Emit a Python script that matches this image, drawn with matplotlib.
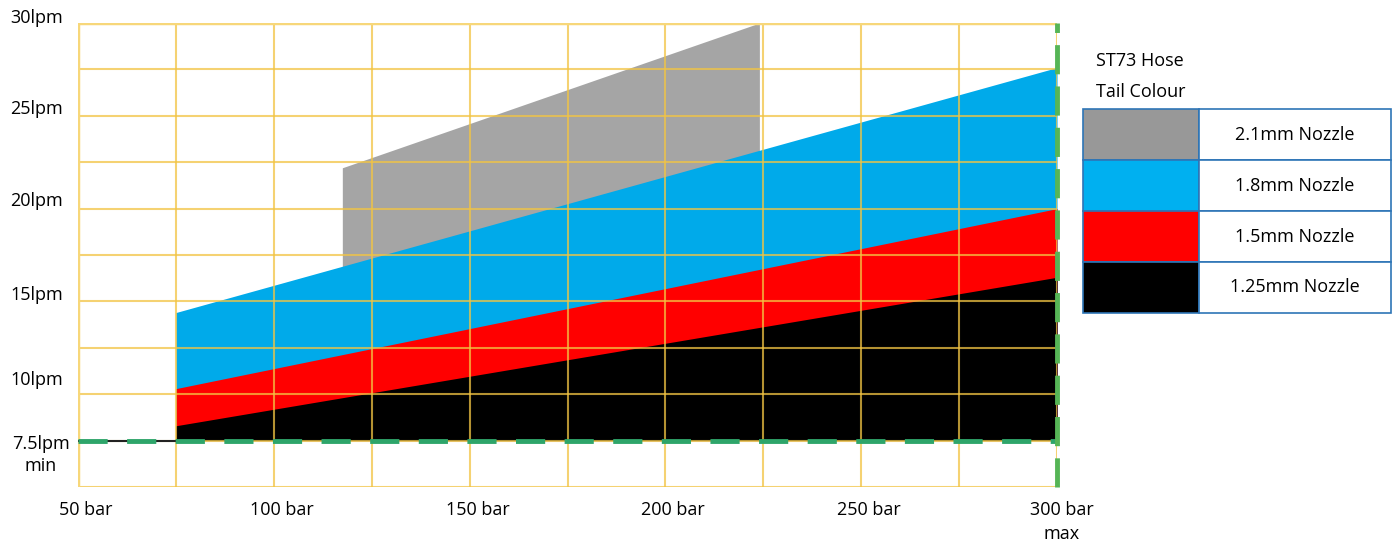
import matplotlib
matplotlib.use("Agg")
import matplotlib.pyplot as plt
from matplotlib.patches import Rectangle

plt.rcParams['font.family'] = ['Open Sans', 'DejaVu Sans']

# ---- data ----
nozzles = ["2.1mm Nozzle", "1.8mm Nozzle", "1.5mm Nozzle", "1.25mm Nozzle"]
colors_chart = ["#a5a5a5", "#00aaea", "#ff0000", "#000000"]
colors_legend = ["#989898", "#00b0f0", "#ff0000", "#000000"]

gray_bar = [117.5, 224]
gray_lpm = [22.2, 30.0]
blue_bar = [75, 300]
blue_lpm = [14.4, 27.6]
red_bar = [75, 300]
red_lpm = [10.3, 20.0]
black_bar = [75, 300]
black_lpm = [8.3, 16.3]

min_lpm = 7.5
max_bar = 300

x_ticks = [50, 100, 150, 200, 250, 300]
x_labels = ["50 bar", "100 bar", "150 bar", "200 bar", "250 bar", "300 bar\nmax"]
y_ticks = [30, 25, 20, 15, 10, 7.5]
y_labels = ["30lpm", "25lpm", "20lpm", "15lpm", "10lpm", "7.5lpm\nmin"]

# ---- figure ----
fig = plt.figure(figsize=(13.97, 5.44), dpi=100)
ax = fig.add_axes([78/1397, 1-487/544, (1057-78)/1397, (487-23)/544])
ax.set_xlim(50, 300)
ax.set_ylim(5, 30)

series = [(gray_bar, gray_lpm), (blue_bar, blue_lpm), (red_bar, red_lpm), (black_bar, black_lpm)]
for (xb, yl), c in zip(series, colors_chart):
    ax.fill_between(xb, [min_lpm]*len(xb), yl, color=c, lw=0, zorder=1)

# grid on top
grid_c = "#f2c443"
for xv in range(50, 301, 25):
    ax.axvline(xv, color=grid_c, lw=1.5, alpha=0.75, zorder=3)
yv = 5.0
while yv <= 30.001:
    ax.axhline(yv, color=grid_c, lw=1.5, alpha=0.75, zorder=3)
    yv += 2.5
ax.axhline(30, color="#f7d77a", lw=2.5, zorder=3)
ax.axvline(50, color="#f7d77a", lw=2.5, zorder=3)

# min/max lines
ax.plot([50, 75], [min_lpm, min_lpm], color="#222222", lw=1.5, zorder=4)
ax.plot([50, 300], [min_lpm, min_lpm], color="#2ea56a", lw=3.5,
        linestyle=(0, (6, 4)), zorder=5, solid_capstyle='butt')
ax.plot([max_bar, max_bar], [5, 30], color="#56b556", lw=3.5,
        linestyle=(0, (6, 2.5)), zorder=5, clip_on=False)

for s in ax.spines.values():
    s.set_visible(False)
ax.set_xticks([])
ax.set_yticks([])

# tick labels as text
for xv, lab in zip(x_ticks, x_labels):
    dx = 2.0 if xv < 300 else 1.2
    ax.text(xv + dx, 5 - 0.75, lab, ha="center", va="top", fontsize=13,
            linespacing=1.4, clip_on=False)
offs = {30: 0.25, 25: 0.35, 20: 0.4, 15: 0.35, 10: 0.75}
for yv_, lab in zip(y_ticks, y_labels):
    if yv_ == 7.5:
        ax.text(40.5, 7.5 + 0.3, lab, ha="center", va="top", fontsize=13,
                linespacing=1.25, clip_on=False)
    else:
        ax.text(39.5, yv_ + offs[yv_], lab, ha="center", va="center", fontsize=13,
                clip_on=False)

# legend table
fig.text(1096/1397, 1-61/544, "ST73 Hose", ha="left", va="center", fontsize=13)
fig.text(1096/1397, 1-92/544, "Tail Colour", ha="left", va="center", fontsize=13)
W, H = 1397, 544
tl, tm, tr = 1083, 1199, 1391
rows = [109, 160, 211, 262, 313]
border = "#2e75b6"
for i, (name, c) in enumerate(zip(nozzles, colors_legend)):
    top, bot = rows[i], rows[i+1]
    fig.add_artist(Rectangle((tl/W, 1-bot/H), (tm-tl)/W, (bot-top)/H,
                             transform=fig.transFigure, facecolor=c,
                             edgecolor=border, lw=1.2))
    fig.add_artist(Rectangle((tm/W, 1-bot/H), (tr-tm)/W, (bot-top)/H,
                             transform=fig.transFigure, facecolor="white",
                             edgecolor=border, lw=1.2))
    fig.text((tm+tr)/2/W, 1-(top+bot)/2/H, name, ha="center", va="center", fontsize=13)

fig.savefig("out.png", dpi=100)
